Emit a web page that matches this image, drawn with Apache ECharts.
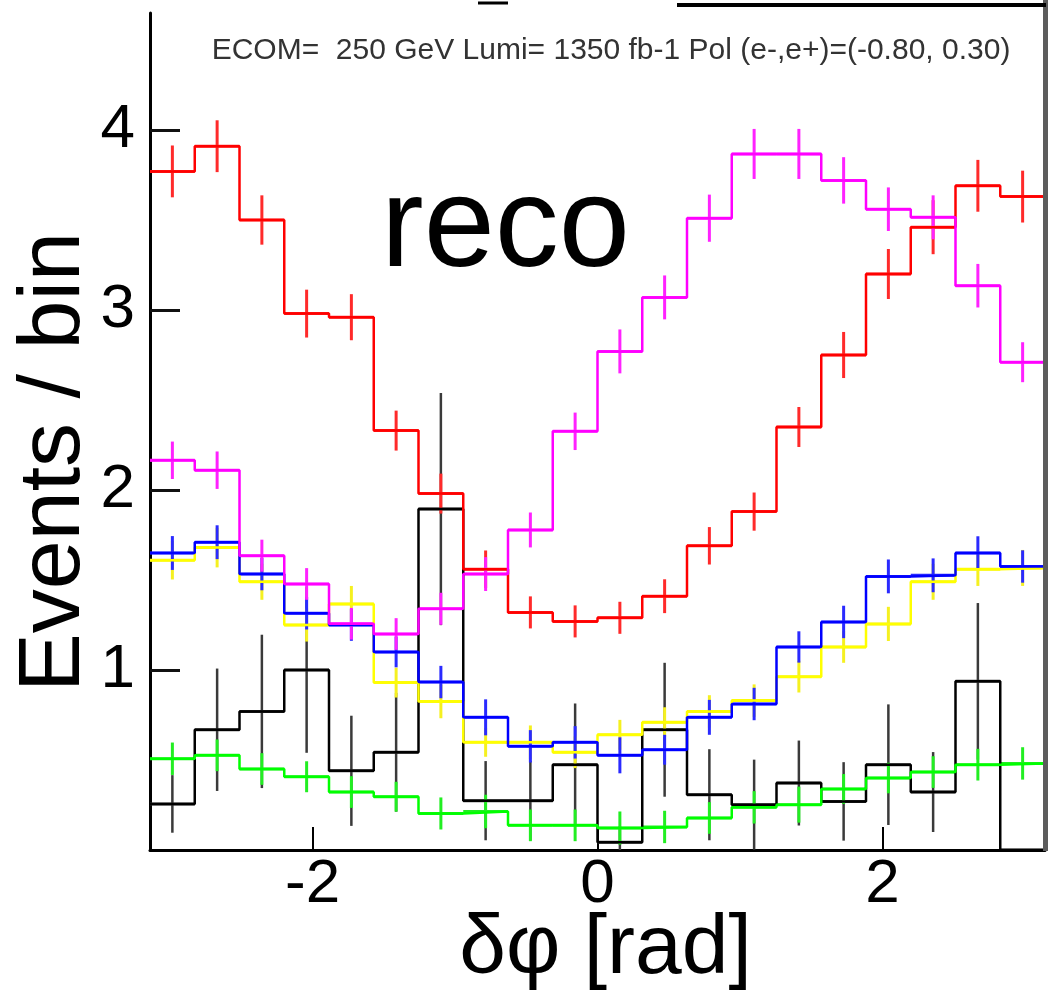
<!DOCTYPE html>
<html>
<head>
<meta charset="utf-8">
<script src="https://cdn.jsdelivr.net/npm/echarts@6/dist/echarts.min.js"></script>
<style>
html,body{margin:0;padding:0;background:#fff;}
#chart{width:1054px;height:1000px;}
</style>
</head>
<body>
<div id="chart"></div>
<script>
// 20 bins over [-pi, pi]
const nBins = 20;
const xMin = -Math.PI, xMax = Math.PI;
const binWidth = (xMax - xMin) / nBins;
const binEdges = Array.from({length: nBins + 1}, (_, i) => xMin + i * binWidth);
const binCenters = Array.from({length: nBins}, (_, i) => xMin + (i + 0.5) * binWidth);

const xTickValues = [-2, 0, 2];
const yTickValues = [1, 2, 3, 4];

const redVals = [3.77,3.91,3.50,2.98,2.96,2.33,1.98,1.56,1.32,1.27,1.29,1.41,1.69,1.88,2.35,2.75,3.20,3.46,3.69,3.63];
const redErr  = [0.144,0.144,0.137,0.133,0.128,0.111,0.111,0.104,0.089,0.089,0.089,0.094,0.104,0.106,0.111,0.128,0.139,0.150,0.144,0.144];

const magentaVals = [2.165,2.11,1.635,1.478,1.257,1.20,1.34,1.533,1.778,2.326,2.77,3.07,3.51,3.867,3.867,3.72,3.56,3.515,3.135,2.71];
const magentaErr  = [0.104,0.104,0.089,0.088,0.088,0.088,0.089,0.094,0.097,0.104,0.122,0.122,0.131,0.139,0.139,0.129,0.121,0.122,0.121,0.111];

const blueVals = [1.65,1.71,1.533,1.315,1.25,1.10,0.933,0.737,0.576,0.598,0.526,0.557,0.737,0.811,1.128,1.267,1.52,1.526,1.65,1.575];
const blueErr  = [0.094,0.094,0.090,0.090,0.088,0.085,0.090,0.100,0.090,0.090,0.100,0.083,0.097,0.090,0.087,0.090,0.094,0.094,0.093,0.090];

const yellowVals = [1.61,1.68,1.49,1.25,1.367,0.93,0.825,0.598,0.598,0.543,0.64,0.71,0.77,0.83,0.963,1.128,1.256,1.49,1.56,1.567];
const yellowErr  = [0.107,0.110,0.100,0.092,0.100,0.083,0.093,0.080,0.094,0.088,0.083,0.083,0.090,0.090,0.088,0.088,0.095,0.100,0.093,0.100];

const greenVals = [0.507,0.526,0.45,0.407,0.322,0.296,0.203,0.214,0.137,0.137,0.122,0.128,0.178,0.237,0.252,0.339,0.40,0.433,0.474,0.481];
const greenErr  = [0.090,0.088,0.088,0.086,0.088,0.083,0.089,0.093,0.088,0.088,0.092,0.090,0.088,0.090,0.100,0.083,0.085,0.088,0.088,0.090];

const blackVals = [0.256,0.668,0.77,1.0,0.44,0.543,1.894,0.274,0.274,0.474,0.043,0.668,0.307,0.252,0.372,0.27,0.474,0.322,0.937,0.0];
const blackErr  = [0.160,0.340,0.426,0.460,0.306,0.330,0.645,0.220,0.220,0.340,0.090,0.372,0.253,0.250,0.236,0.218,0.335,0.222,0.435,0.0];

const annotationText = 'ECOM=  250 GeV Lumi= 1350 fb-1 Pol (e-,e+)=(-0.80, 0.30)';
const yTitle = 'Events / bin';
const xTitle = 'δφ [rad]';
const FONT = "'Liberation Sans', Arial, Helvetica, sans-serif";

function stepData(vals) {
  return binEdges.map((e, i) => [e, vals[Math.min(i, vals.length - 1)]]);
}
function errData(vals, errs) {
  return binCenters.map((c, i) => [c, vals[i], errs[i]]);
}

function histSeries(name, vals, color, width) {
  return {
    name: name, type: 'line', step: 'end', data: stepData(vals),
    showSymbol: false, symbol: 'none', animation: false,
    lineStyle: {color: color, width: width}, clip: true
  };
}
function errSeries(name, vals, errs, color, vWidth, hWidth) {
  return {
    name: name + ' err', type: 'custom', data: errData(vals, errs), clip: true, animation: false,
    renderItem: function (params, api) {
      const c = api.value(0), v = api.value(1), e = api.value(2);
      const children = [];
      const l = api.coord([c - binWidth / 2, v]);
      const r = api.coord([c + binWidth / 2, v]);
      children.push({type: 'line', shape: {x1: l[0], y1: l[1], x2: r[0], y2: r[1]},
        style: {stroke: color, lineWidth: hWidth}});
      if (e > 0) {
        const t = api.coord([c, v + e]);
        const b = api.coord([c, v - e]);
        children.push({type: 'line', shape: {x1: t[0], y1: t[1], x2: b[0], y2: b[1]},
          style: {stroke: color, lineWidth: vWidth}});
      }
      return {type: 'group', children: children};
    }
  };
}

const chart = echarts.init(document.getElementById('chart'), null, {renderer: 'canvas'});
chart.setOption({
  backgroundColor: '#ffffff',
  animation: false,
  grid: {left: 150, right: 9, top: 13, bottom: 150, containLabel: false, outerBoundsMode: 'none'},
  xAxis: {
    type: 'value', min: xMin, max: xMax,
    name: xTitle, nameLocation: 'middle', nameGap: 58, nameMoveOverlap: false,
    nameTextStyle: {fontFamily: FONT, fontSize: 84, color: '#000', padding: [0, 0, 0, 16]},
    axisLine: {show: true, onZero: false, lineStyle: {color: '#000', width: 3}},
    axisTick: {show: true, inside: true, length: 23, customValues: xTickValues, lineStyle: {color: '#000', width: 2}},
    axisLabel: {show: true, customValues: xTickValues, margin: 4, fontFamily: FONT, fontSize: 62, color: '#000'},
    splitLine: {show: false}
  },
  yAxis: {
    type: 'value', min: 0, max: 4.65,
    axisLine: {show: true, onZero: false, lineStyle: {color: '#000', width: 3}},
    axisTick: {show: true, inside: true, length: 30, customValues: yTickValues, lineStyle: {color: '#111', width: 3}},
    axisLabel: {show: true, customValues: yTickValues, margin: 15, fontFamily: FONT, fontSize: 62, color: '#000'},
    splitLine: {show: false}
  },
  graphic: [
    {type: 'rect', left: 1043, top: 0, shape: {width: 5, height: 851}, style: {fill: '#5c5c5c'}, z: 100},
    {type: 'line', shape: {x1: 677, y1: 5, x2: 1046, y2: 5}, style: {stroke: '#000', lineWidth: 4}, z: 100},
    {type: 'line', shape: {x1: 478, y1: 3, x2: 508, y2: 3}, style: {stroke: '#000', lineWidth: 3}, z: 100},
    {type: 'text', x: 55, y: 462, rotation: Math.PI / 2,
      style: {text: yTitle, fontFamily: FONT, fontSize: 88, fill: '#000', verticalAlign: 'middle', align: 'center'}, z: 100},
    {type: 'text', x: 381, y: 231, style: {text: 'reco', fontFamily: FONT, fontSize: 128, fill: '#000', verticalAlign: 'middle', align: 'left'}, z: 100},
    {type: 'text', x: 611, y: 51, style: {text: annotationText, fontFamily: FONT, fontSize: 30, fill: '#333', verticalAlign: 'middle', align: 'center'}, z: 100}
  ],
  series: [
    histSeries('black', blackVals, '#000000', 2.5),
    errSeries('black', blackVals, blackErr, '#3a3a3a', 2.5, 3),
    histSeries('green', greenVals, '#00ff00', 2.5),
    errSeries('green', greenVals, greenErr, '#22ee22', 3, 3),
    histSeries('yellow', yellowVals, '#ffff00', 2.5),
    errSeries('yellow', yellowVals, yellowErr, '#f5f020', 3, 3),
    histSeries('blue', blueVals, '#0000ff', 2.5),
    errSeries('blue', blueVals, blueErr, '#2a2aff', 3, 3),
    histSeries('red', redVals, '#ff0000', 2.5),
    errSeries('red', redVals, redErr, '#ff2a2a', 3, 3),
    histSeries('magenta', magentaVals, '#ff00ff', 2.5),
    errSeries('magenta', magentaVals, magentaErr, '#ff22ff', 3, 3)
  ]
});
</script>
</body>
</html>
